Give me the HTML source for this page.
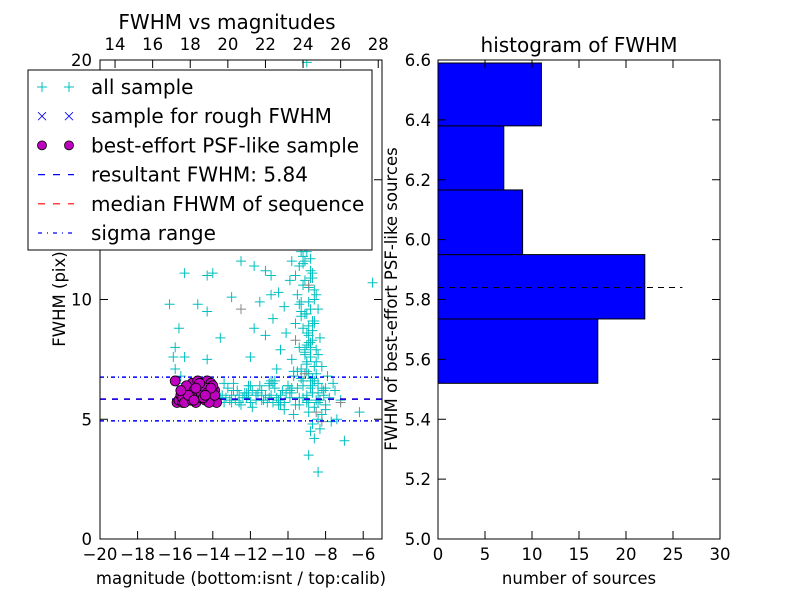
<!DOCTYPE html>
<html><head><meta charset="utf-8">
<style>
html,body{margin:0;padding:0;background:#fff;}
svg{display:block;font-family:"DejaVu Sans","Liberation Sans",sans-serif;}
</style></head>
<body>
<svg id="fig" width="800" height="600" viewBox="0 0 800 600" xmlns="http://www.w3.org/2000/svg">
<rect x="0" y="0" width="800" height="600" fill="#fff"/>
</svg>
<script>
// ---- left scatter data ----
const allMag = [-10.3,-9.5,-9.2,-8.9,-9.8,-10.9,-12.5,-14.3,-15.5,-14.0,-16.3,-14.8,-14.3,-13.0,-11.5,-13.6,-15.8,-16.0,-15.5,-16.1,-14.3,-12.0,-11.8,-11.2,-10.8,-10.5,-9.9,-9.5,-9.2,-8.8,-8.6,-8.4,-8.7,-9.0,-9.3,-9.6,-10.1,-10.4,-9.8,-9.4,-9.1,-8.8,-8.5,-8.2,-8.9,-9.3,-9.7,-10.6,-11.0,-11.4,-12.0,-12.6,-13.2,-13.6,-13.4,-12.8,-12.3,-11.7,-11.2,-10.8,-10.3,-9.9,-9.5,-9.0,-8.7,-8.4,-8.1,-8.6,-8.9,-8.4,-8.7,-8.3,-8.6,-8.9,-8.4,-7.0,-6.2,-7.2,-7.6,-7.9,-9.2,-10.0,-10.7,-12.5,-13.0,-11.9,-10.2,-9.4,-9.7,-13.9,-14.2,-15.9,-16.0,-15.7,-9.1,-8.9,-9.4,-9.8,-10.0,-10.8,-11.8,-11.5,-9.2,-8.9,-9.1,-8.7,-9.0,-8.5,-8.8,-9.5,-8.3,-8.6,-9.3,-9.6,-10.2,-10.9,-11.2,-5.5,-9.0,-8.7,-8.2,-8.0,-7.8,-7.5,-7.4,-7.7,-8.8,-10.5,-11.5,-12.2,-13.4,-9.8,-9.2,-8.5,-9.0,-8.8,-9.3,-8.6,-9.1,-8.9,-9.4,-8.7,-9.2,-9.6,-8.4,-9.0,-10.4,-11.0,-12.9,-12.1,-10.9,-9.7,
 -9.0,-8.8,-9.1,-8.7,-8.9,-9.2,-8.6,-9.0,-8.8,-9.3,-8.5,-8.9,-9.1,-8.7,-9.4,-8.8,-9.0,-8.6,-9.2,-8.9,-8.7,-9.1,-8.8,-8.5,-9.0,-8.9,-9.3,-8.6,-8.8,-9.1,-8.7,-9.0,-8.4,-9.2,-8.8,-8.6,-9.0,-8.7,-9.4,-8.9,
 -13.5,-13.1,-12.7,-12.4,-12.0,-11.6,-11.3,-10.9,-10.6,-10.2,-9.9,-13.8,-13.0,-12.2,-11.4,-10.7,-10.0,-12.9,-11.9,-11.0,-10.4,-9.6,-13.3,-12.6,-11.7,-10.8,-10.1,-9.4,-9.8,-10.5,-11.1,-12.1,-8.3,-8.1,-8.6,-8.0,-8.2,-8.4,-8.0,-8.3];
const allFwhm = [12.5,13.0,14.0,12.8,11.6,11.0,11.6,11.0,11.1,11.1,9.8,9.8,9.5,10.1,9.9,8.4,8.8,8.0,7.6,7.6,7.5,7.6,8.8,8.5,9.2,10.3,10.8,10.2,11.5,11.2,10.4,9.6,9.1,8.6,9.3,9.0,8.6,7.9,7.5,8.0,7.7,8.2,7.4,7.2,6.9,7.1,6.8,7.1,6.5,6.2,6.4,6.0,6.3,5.9,6.5,5.8,6.1,5.8,6.0,5.7,6.2,5.9,6.3,5.8,6.1,6.5,6.0,5.5,5.3,5.0,4.8,4.6,4.2,3.5,2.8,4.1,5.3,5.8,6.5,6.8,6.6,6.4,6.6,5.6,5.7,5.5,5.4,5.6,5.2,5.8,6.0,6.5,7.1,6.8,12.2,13.5,14.6,14.2,13.0,12.8,11.4,12.5,10.6,9.9,9.4,8.7,8.1,7.9,7.6,7.0,8.4,9.0,12.0,11.0,9.7,10.2,11.2,10.7,19.9,6.4,6.3,5.6,5.9,6.2,5.0,4.9,4.5,5.8,6.4,5.9,5.7,6.1,5.9,5.8,6.0,6.3,6.7,7.2,7.8,8.9,9.8,10.9,11.8,12.9,6.1,5.7,6.0,5.9,6.2,6.4,6.6,
 7.0,7.3,7.6,7.9,8.3,8.5,8.8,9.1,9.4,9.6,9.9,10.2,10.5,10.8,11.1,11.4,11.7,12.0,12.3,12.6,13.1,13.4,13.8,8.0,6.9,7.4,8.2,9.5,10.0,10.9,11.6,6.7,7.0,7.7,6.4,6.6,12.7,13.2,13.6,14.4,
 5.7,6.0,5.8,6.2,5.9,5.7,6.1,5.8,6.0,5.9,5.7,6.2,5.9,6.0,6.1,5.8,6.3,6.4,6.5,6.2,6.4,5.6,5.6,5.9,5.7,6.0,6.5,6.1,5.9,6.3,5.6,5.7,6.0,5.8,6.2,6.6,5.4,5.2,5.7,6.3];
const bestMag = [-16.0,-15.9,-15.8,-15.7,-15.6,-15.5,-15.4,-15.3,-15.2,-15.1,-15.0,-14.9,-14.8,-14.7,-14.6,-14.5,-14.4,-14.3,-14.2,-14.1,-14.0,-13.9,-13.8,-15.6,-15.4,-15.2,-15.0,-14.8,-14.6,-14.4,-14.2,-14.0,-15.5,-15.1,-14.7,-14.3,-13.9,-15.3,-14.9,-14.5,-14.1,-15.7,-15.0,-14.4];
const bestFwhm = [6.6,5.7,5.8,6.0,5.7,6.1,5.9,6.3,5.8,6.5,6.0,5.7,6.6,6.2,5.9,6.4,5.8,6.6,6.1,6.5,5.8,6.2,5.7,5.9,6.4,6.0,6.2,5.9,6.0,6.3,5.7,6.4,5.7,5.8,6.5,6.1,6.0,6.0,6.3,5.9,6.3,6.2,5.8,6.0];
const grayMag = [-9.3,-8.9,-10.0,-12.5,-9.1,-8.5,-8.2,-9.6,-7.2];
const grayFwhm = [12.2,10.6,13.4,9.6,6.9,5.3,4.9,8.3,5.7];
const resultFwhm = 5.84;
const sigmaLow = 4.93;
const sigmaHigh = 6.76;
const bottomTicks = [-20,-18,-16,-14,-12,-10,-8,-6];
const topTicks = [14,16,18,20,22,24,26,28];
const leftYTicks = [0,5,10,15,20];
// ---- histogram data ----
const binEdges = [5.52,5.735,5.95,6.166,6.38,6.59];
const binCounts = [17,22,9,7,11];
const histXTicks = [0,5,10,15,20,25,30];
const histYTicks = [5.0,5.2,5.4,5.6,5.8,6.0,6.2,6.4,6.6];

const NS="http://www.w3.org/2000/svg";
const svg=document.getElementById('fig');
function mk(tag,attrs,parent){const e=document.createElementNS(NS,tag);for(const k in attrs)e.setAttribute(k,attrs[k]);(parent||svg).appendChild(e);return e;}
function txt(s,x,y,size,anchor,parent,extra){const t=mk('text',Object.assign({x:x,y:y,'font-size':size,'text-anchor':anchor||'middle',fill:'#000'},extra||{}),parent);t.textContent=s;return t;}
const TK=16.5, LB=16.5, TT=20;

// left axes
const L={x0:100,x1:382,y0:539,y1:60};
const sx=v=>L.x0+(v+20)/15*(L.x1-L.x0);
const sxTop=v=>L.x0+(v-13.2)/15*(L.x1-L.x0);
const sy=v=>L.y0-v/20*(L.y0-L.y1);

const gL=mk('g',{});


mk('rect',{x:L.x0,y:L.y1,width:L.x1-L.x0,height:L.y0-L.y1,fill:'#fff'},gL);
const clip=mk('clipPath',{id:'clipL'},gL);
mk('rect',{x:L.x0,y:L.y1,width:L.x1-L.x0,height:L.y0-L.y1},clip);
const plotG=mk('g',{'clip-path':'url(#clipL)'},gL);

function plus(x,y,color,parent){const p=mk('path',{d:`M${x-5} ${y}H${x+5}M${x} ${y-5}V${y+5}`,stroke:color,'stroke-width':1,fill:'none'},parent);return p;}
const allG=mk('g',{},plotG);


for(let i=0;i<allMag.length;i++){
  const p=plus(sx(allMag[i]),sy(allFwhm[i]),'#00bfbf',allG);
  
  
}
const grayG=mk('g',{},plotG);


for(let i=0;i<grayMag.length;i++){
  const p=plus(sx(grayMag[i]),sy(grayFwhm[i]),'#888',grayG);
  
  
}
function hline(v,color,dash,name){const l=mk('line',{x1:L.x0,x2:L.x1,y1:sy(v),y2:sy(v),stroke:color,'stroke-width':1.5,'stroke-dasharray':dash},plotG);return l;}
hline(resultFwhm,'#ff0000','6,6','median-fwhm-line');
hline(resultFwhm,'#0000ff','6,6','resultant-fwhm-line');
hline(sigmaHigh,'#0000ff','4,3,1,3','sigma-high-line');
hline(sigmaLow,'#0000ff','4,3,1,3','sigma-low-line');
const bestG=mk('g',{},plotG);


for(let i=0;i<bestMag.length;i++){
  const c=mk('circle',{cx:sx(bestMag[i]),cy:sy(bestFwhm[i]),r:5,fill:'#bf00bf',stroke:'#000','stroke-width':0.8},bestG);
  
  
}
mk('rect',{x:L.x0,y:L.y1,width:L.x1-L.x0,height:L.y0-L.y1,fill:'none',stroke:'#000','stroke-width':1},gL);
bottomTicks.forEach(v=>{const x=sx(v);mk('line',{x1:x,x2:x,y1:L.y0,y2:L.y0-8,stroke:'#000'},gL);
  const t=txt('\u2212'+Math.abs(v),x,L.y0+21,TK,'middle',gL);});
topTicks.forEach(v=>{const x=sxTop(v);mk('line',{x1:x,x2:x,y1:L.y1,y2:L.y1+8,stroke:'#000'},gL);
  const t=txt(String(v),x,L.y1-10,TK,'middle',gL);});
leftYTicks.forEach(v=>{const y=sy(v);mk('line',{x1:L.x0,x2:L.x0+8,y1:y,y2:y,stroke:'#000'},gL);mk('line',{x1:L.x1,x2:L.x1-8,y1:y,y2:y,stroke:'#000'},gL);
  const t=txt(String(v),L.x0-8,y+6,TK,'end',gL);});
const xt=txt('magnitude (bottom:isnt / top:calib)',241,584,LB,'middle',gL);

const yt=txt('FWHM (pix)',0,0,LB,'middle',gL,{transform:'translate(65,299) rotate(-90)'});

const tt=txt('FWHM vs magnitudes',227,29,TT,'middle',gL);


// legend
const lg=mk('g',{},gL);


mk('rect',{x:28,y:70,width:344,height:180,fill:'#fff',stroke:'#000','stroke-width':1},lg);
const entries=['all sample','sample for rough FWHM','best-effort PSF-like sample','resultant FWHM: 5.84','median FHWM of sequence','sigma range'];
entries.forEach((s,i)=>{
  const y=87+i*29.2;
  const e=mk('g',{},lg);
  
  
  if(i===0){plus(42,y,'#00bfbf',e);plus(69,y,'#00bfbf',e);}
  if(i===1){[42,69].forEach(x=>mk('path',{d:`M${x-4} ${y-4}L${x+4} ${y+4}M${x+4} ${y-4}L${x-4} ${y+4}`,stroke:'#0000ff','stroke-width':0.8},e));}
  if(i===2){[42,69].forEach(x=>mk('circle',{cx:x,cy:y,r:4.5,fill:'#bf00bf',stroke:'#000','stroke-width':0.8},e));}
  if(i===3)mk('line',{x1:38,x2:74,y1:y,y2:y,stroke:'#0000ff','stroke-width':1.2,'stroke-dasharray':'7,8'},e);
  if(i===4)mk('line',{x1:38,x2:74,y1:y,y2:y,stroke:'#ff0000','stroke-width':1.2,'stroke-dasharray':'7,8'},e);
  if(i===5)mk('line',{x1:38,x2:74,y1:y,y2:y,stroke:'#0000ff','stroke-width':1.2,'stroke-dasharray':'4,5,1,5'},e);
  txt(s,91,y+7,20,'start',e);
});

// right histogram
const R={x0:438,x1:720,y0:539,y1:60};
const hx=v=>R.x0+v/30*(R.x1-R.x0);
const hy=v=>R.y0-(v-5.0)/1.6*(R.y0-R.y1);
const gR=mk('g',{});


mk('rect',{x:R.x0,y:R.y1,width:R.x1-R.x0,height:R.y0-R.y1,fill:'#fff'},gR);
for(let i=0;i<binCounts.length;i++){
  const b=mk('rect',{x:hx(0),y:hy(binEdges[i+1]),width:hx(binCounts[i])-hx(0),height:hy(binEdges[i])-hy(binEdges[i+1]),fill:'#0000ff',stroke:'#000','stroke-width':1},gR);
  
  
}
const ml=mk('line',{x1:hx(0),x2:hx(26),y1:hy(resultFwhm),y2:hy(resultFwhm),stroke:'#000','stroke-width':1,'stroke-dasharray':'6,5'},gR);


mk('rect',{x:R.x0,y:R.y1,width:R.x1-R.x0,height:R.y0-R.y1,fill:'none',stroke:'#000','stroke-width':1},gR);
histXTicks.forEach(v=>{const x=hx(v);mk('line',{x1:x,x2:x,y1:R.y0,y2:R.y0-8,stroke:'#000'},gR);mk('line',{x1:x,x2:x,y1:R.y1,y2:R.y1+8,stroke:'#000'},gR);
  const t=txt(String(v),x,R.y0+21,TK,'middle',gR);});
histYTicks.forEach(v=>{const y=hy(v);mk('line',{x1:R.x0,x2:R.x0+8,y1:y,y2:y,stroke:'#000'},gR);mk('line',{x1:R.x1,x2:R.x1-8,y1:y,y2:y,stroke:'#000'},gR);
  const t=txt(v.toFixed(1),R.x0-7,y+6,TK,'end',gR);});
const hxt=txt('number of sources',579,584,LB,'middle',gR);

const hyt=txt('FWHM of best-effort PSF-like sources',0,0,LB,'middle',gR,{transform:'translate(397,299) rotate(-90)'});

const ht=txt('histogram of FWHM',579,52,TT,'middle',gR);

</script>
</body></html>
